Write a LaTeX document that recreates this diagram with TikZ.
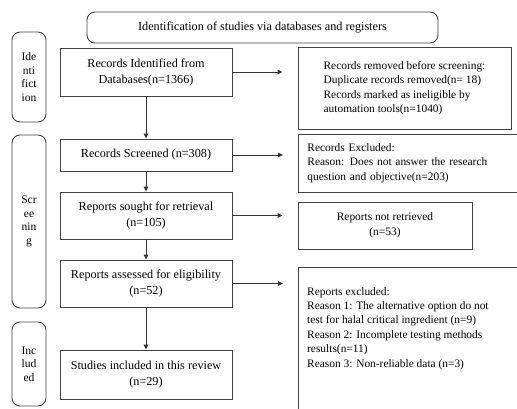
\documentclass[tikz,border=0pt]{standalone}
\usepackage{fontspec}
\setmainfont{Liberation Serif}
\usetikzlibrary{arrows.meta}

\tikzset{
  boxline/.style={draw=black!75, line width=0.9pt},
  mainbox/.style={boxline, minimum width=172pt, inner sep=0pt, align=center,
    font=\fontsize{12.2}{16}\selectfont},
  sidebox/.style={boxline, rounded corners=8pt, minimum width=34pt, inner sep=0pt,
    align=center, font=\fontsize{11.5}{13.5}\selectfont},
  notebox/.style={boxline, inner sep=0pt, inner xsep=9pt, align=left,
    font=\fontsize{11.4}{14.5}\selectfont},
  arr/.style={draw=black!80, line width=0.9pt, -{Triangle[length=5pt,width=4.5pt]}}
}

\begin{document}
\begin{tikzpicture}[x=1pt,y=-1pt]
                    \useasboundingbox (0,0) rectangle (517,408);
                    \clip (0,0) rectangle (517,408);

                    % Drawing title box
                    \node [boxline, rounded corners=8pt, minimum width=351pt, minimum height=31pt,
                      font=\fontsize{12.2}{14}\selectfont] (title) at (262.5,27.5)
                      {Identification of studies via databases and registers};%

                    % Drawing side boxes
                    \node [sidebox, minimum height=90pt] (sideident) at (29,77) {Ide\\nti\\fict\\ion};%
                    \node [sidebox, minimum height=173pt] (sidescreen) at (29,221.5) {Scr\\ee\\nin\\g};%
                    \node [sidebox, minimum height=84pt] (sideincl) at (29,364) {Inc\\lud\\ed};%

                    % Drawing main boxes
                    \node [mainbox, minimum height=48pt] (ident) at (146,72) {Records Identified from\\Databases(n=1366)};%
                    \node [mainbox, minimum height=32pt] (screen) at (146,155) {Records Screened (n=308)};%
                    \node [mainbox, minimum height=47pt] (sought) at (146,215.5) {Reports sought for retrieval\\(n=105)};%
                    \node [mainbox, minimum height=47pt] (assess) at (146,283.5) {Reports assessed for eligibility\\(n=52)};%
                    \node [mainbox, minimum height=49pt] (incl) at (146,374.5) {Studies included in this review\\(n=29)};%

                    % Drawing right boxes
                    \node [notebox, minimum width=213pt, minimum height=82pt] (removed) at (404.5,88)
                      {Records removed before screening:\\Duplicate records removed(n= 18)\\Records marked as ineligible by\\automation tools(n=1040)};%
                    \node [notebox, anchor=west, text width=212pt, minimum height=58pt] (excluded) at (298,163)
                      {Records Excluded:\\Reason: Does not answer the research\\question and objective(n=203)};%
                    \node [notebox, align=center, minimum width=174pt, minimum height=47pt] (notret) at (385,225.5)
                      {Reports not retrieved\\(n=53)};%
                    \node [boxline, anchor=north west, minimum width=230pt, minimum height=160pt] (reportsout) at (298,267) {};%
                    \node [anchor=north west, inner sep=0pt, align=left, font=\fontsize{11.4}{14.4}\selectfont] (reportstext)
                      at ([shift={(9,20)}]reportsout.north west)
                      {Reports excluded:\\Reason 1: The alternative option do not\\test for halal critical ingredient (n=9)\\Reason 2: Incomplete testing methods\\results(n=11)\\Reason 3: Non-reliable data (n=3)};%

                    % Drawing vertical arrows
                    \draw [arr] (ident) -- (screen);%
                    \draw [arr] (screen) -- (sought);%
                    \draw [arr] (sought) -- (assess);%
                    \draw [arr] (assess) -- (incl);%

                    % Drawing horizontal arrows
                    \draw [arr, shorten >=15pt] (ident.east) -- (ident.east -| removed.west);%
                    \draw [arr, shorten >=15pt] (screen.east) -- (screen.east -| excluded.west);%
                    \draw [arr, shorten >=15pt] (sought.east) -- (sought.east -| notret.west);%
                    \draw [arr, shorten >=15pt] (assess.east) -- (assess.east -| reportsout.west);%
\end{tikzpicture}
\end{document}
